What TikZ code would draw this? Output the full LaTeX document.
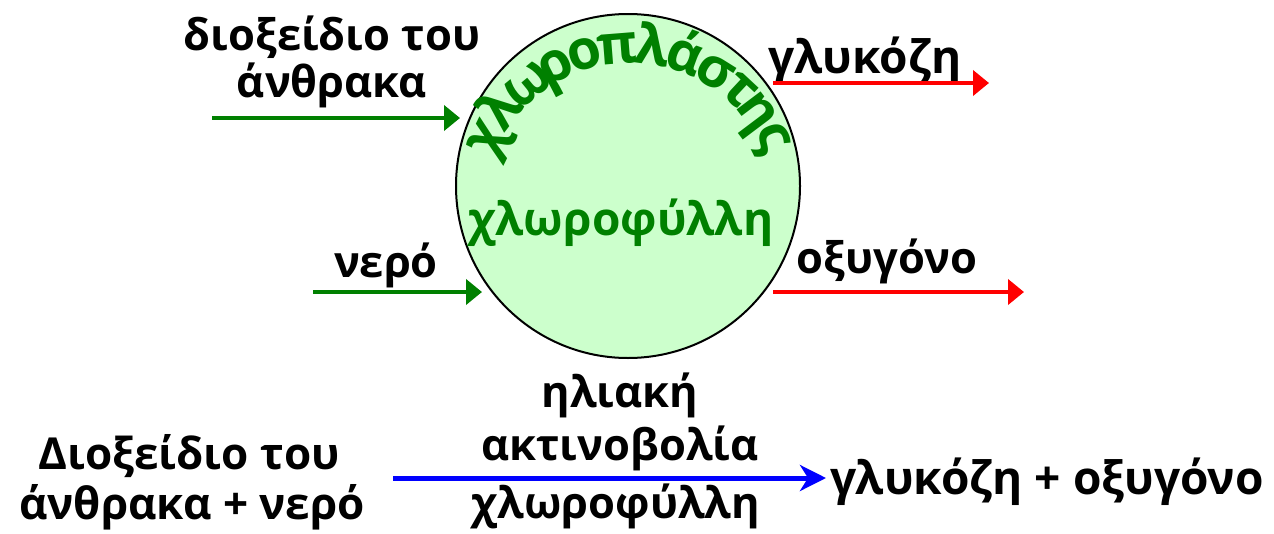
\documentclass[tikz,border=0pt]{standalone}
\usepackage{fontspec}
\setmainfont{Open Sans}
\newfontfamily\plastfont{Open Sans}
\usetikzlibrary{arrows.meta,calc}

\definecolor{leafgreen}{HTML}{008000}
\definecolor{plastfill}{HTML}{CCFFCC}
\definecolor{outred}{HTML}{FF0000}
\definecolor{rayblue}{HTML}{0000FF}

\tikzset{
  lbl/.style={anchor=base, inner sep=0pt, font=\fontsize{43.5}{50}\selectfont\bfseries},
  eqn/.style={anchor=base, inner sep=0pt, font=\fontsize{44}{50}\selectfont\bfseries},
  archletter/.style={anchor=base, inner sep=0pt, text=leafgreen,
    font=\fontsize{55}{58}\plastfont\bfseries},
  inflow/.style={draw=leafgreen, line width=4.5pt, -{Triangle[length=16pt,width=25pt]}},
  outflow/.style={draw=outred, line width=4.5pt, -{Triangle[length=16pt,width=25pt]}},
  reaction/.style={draw=rayblue, line width=5pt, -{Stealth[length=26pt,width=26pt,inset=8pt]}},
}

\begin{document}
\begin{tikzpicture}[x=1pt,y=-1pt]
\useasboundingbox (0,0) rectangle (1274,533);

% the chloroplast
\node[circle, draw=black, line width=2pt, fill=plastfill, minimum size=344pt, inner sep=0pt]
  (plast) at (628,186) {};
\coordinate (archc) at (630,208);
% its name, set letter by letter on an arch (baseline radius 145pt)
\foreach \ch/\ang [count=\i] in {χ/154, λ/142.5, ω/129.5, ρ/117.5, ο/106.5, π/94.5,
    λ/82, ά/70, σ/58, τ/47, η/37, ς/26.5}
  \node[archletter, rotate=\ang-90] (arch\i) at ($(archc)+(\ang:145pt)$) {\ch};

\node[anchor=base, inner sep=0pt, text=leafgreen, font=\fontsize{46}{50}\selectfont\bfseries]
  (chl) at (621,235) {χλωροφύλλη};

% inputs
\node[lbl] (co2a) at (332,50) {διοξείδιο του};
\node[lbl] (co2b) at (332,97) {άνθρακα};
\node[lbl] (water) at (386,277) {νερό};
\coordinate (in1s) at (212,118);
\coordinate (in1e) at (460,118);
\coordinate (in2s) at (313,292);
\coordinate (in2e) at (482,292);
\draw[inflow] (in1s) -- (in1e);
\draw[inflow] (in2s) -- (in2e);

% outputs
\node[lbl, font=\fontsize{46}{50}\selectfont\bfseries] (gluc) at (865,73) {γλυκόζη};
\node[lbl] (oxy) at (887,273) {οξυγόνο};
\coordinate (out1s) at (773,83);
\coordinate (out1e) at (989,83);
\coordinate (out2s) at (773,292);
\coordinate (out2e) at (1024,292);
\draw[outflow] (out1s) -- (out1e);
\draw[outflow] (out2s) -- (out2e);

% overall reaction
\node[eqn] (lhs1) at (189,469) {Διοξείδιο του};
\node[eqn] (lhs2) at (192,519) {άνθρακα + νερό};
\node[lbl] (sun1) at (620,407) {ηλιακή};
\node[lbl] (sun2) at (620,460) {ακτινοβολία};
\node[lbl] (cat) at (616,518) {χλωροφύλλη};
\node[eqn, font=\fontsize{46}{50}\selectfont\bfseries] (rhs) at (1047,494) {γλυκόζη + οξυγόνο};
\coordinate (rs) at (393,478);
\coordinate (re) at (826,478);
\draw[reaction] (rs) -- (re);
\end{tikzpicture}
\end{document}
